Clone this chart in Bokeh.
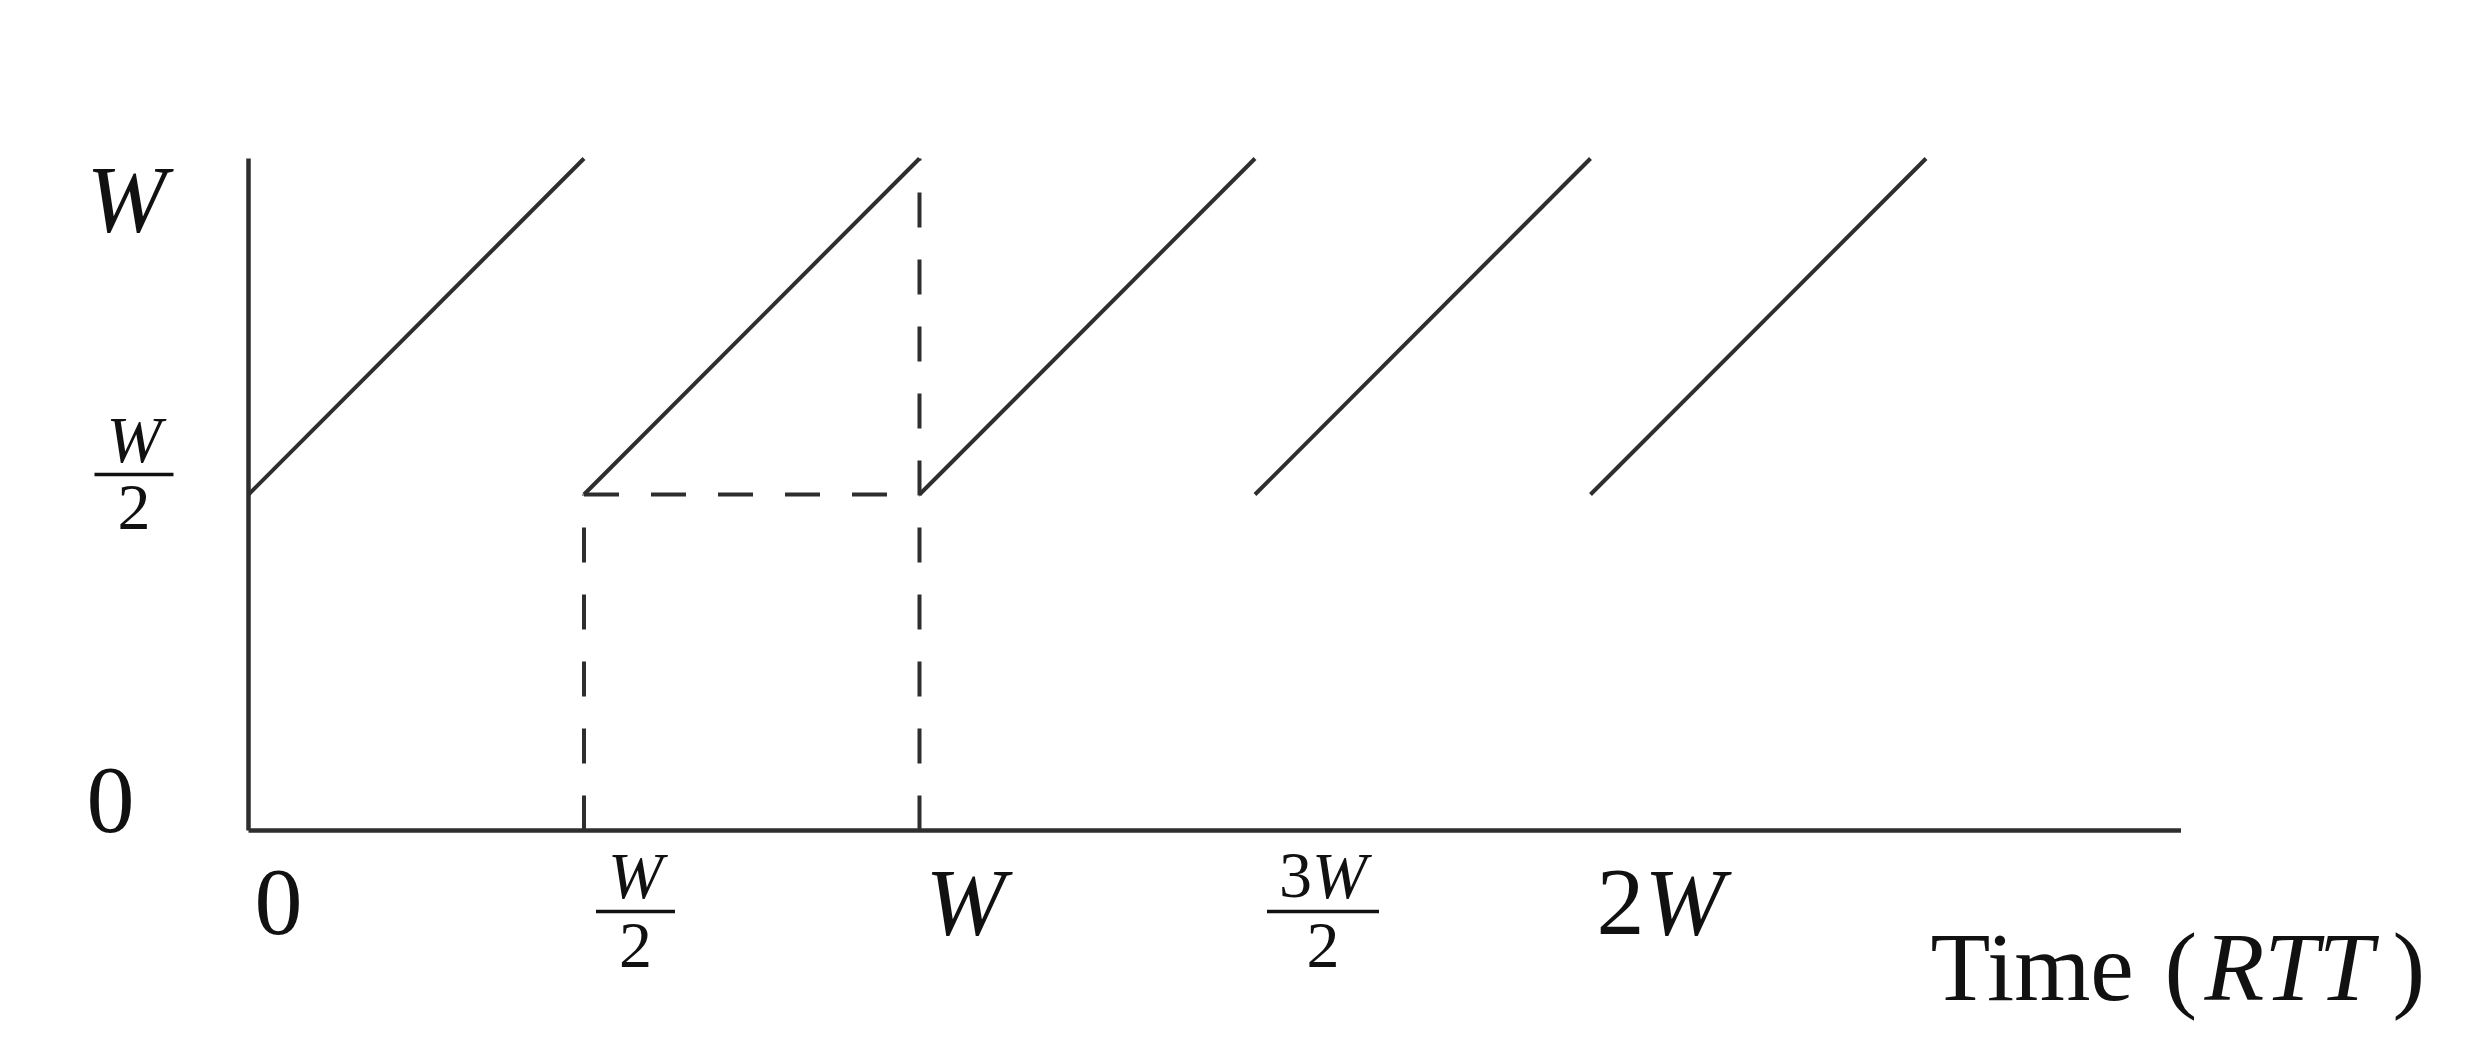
from bokeh.plotting import figure
from bokeh.models import Range1d
from bokeh.embed import file_html
from bokeh.resources import INLINE
from bokeh.core.properties import value

# ---------------- data (time and window in units of W) ----------------
cycle_t_start = [0.0, 0.5, 1.0, 1.5, 2.0]
cycle_t_end = [0.5, 1.0, 1.5, 2.0, 2.5]
cycle_w_start = [0.5, 0.5, 0.5, 0.5, 0.5]
cycle_w_end = [1.0, 1.0, 1.0, 1.0, 1.0]

guide_t0 = [0.5, 1.0, 0.5]
guide_w0 = [0.0, 0.0, 0.5]
guide_t1 = [0.5, 1.0, 1.0]
guide_w1 = [0.5, 1.0, 0.5]

x_ticks = [0.0, 0.5, 1.0, 1.5, 2.0]
x_tick_labels = ["0", "W/2", "W", "3W/2", "2W"]
y_ticks = [0.0, 0.5, 1.0]
y_tick_labels = ["0", "W/2", "W"]
axis_t_max = 2.88
axis_w_max = 1.0
x_title_runs = [("Time", False), ("(", False), ("RTT", True), (")", False)]

# ---------------- layout ----------------
W_PX, H_PX = 2463, 1042
OX, OY = 248, 830          # origin in picture pixels
SX, SY = 671.0, 672.0      # pixels per unit W

x0 = (0 - OX) / SX
x1 = (W_PX - OX) / SX
y0 = (OY - H_PX) / SY
y1 = OY / SY

FONT = "Liberation Serif"
TEXT_COLOR = "#111111"
LINE_COLOR = "#2e2e2e"
BIG = 96
TITLE = 98
SMALL = 66
BASE_FIX = 0.34            # empirical baseline correction (em)
TITLE_LEFTS = [1930, 2164, 2204, 2392]   # picture px of each title run

ADV_UP = {c: 0.5 for c in "0123456789"}
ADV_UP.update({'T': .611, 'i': .278, 'm': .778, 'e': .444, ' ': .25, '(': .333, ')': .333})
ADV_IT = {'W': .833, 'R': .611, 'T': .556}


def px_x(px):
    return (px - OX) / SX


def px_y(py):
    return (OY - py) / SY


def tick_px_x(t):
    return OX + t * SX


def tick_px_y(w):
    return OY - w * SY


def runs_of(term):
    digits = ""
    rest = term
    while rest and rest[0].isdigit():
        digits += rest[0]
        rest = rest[1:]
    out = []
    if digits:
        out.append((digits, False))
    if rest:
        out.append((rest, True))
    return out


def run_width(runs, size):
    w = 0.0
    for txt, it in runs:
        tab = ADV_IT if it else ADV_UP
        w += sum(tab.get(c, 0.5) for c in txt) * size
    return w


p = figure(width=W_PX, height=H_PX, x_range=Range1d(x0, x1), y_range=Range1d(y0, y1),
           output_backend="svg", toolbar_location=None, min_border=0)
p.axis.visible = False
p.grid.visible = False
p.outline_line_color = None
p.background_fill_color = "white"
p.border_fill_color = "white"


def put_text(txt, italic, left_px, base_py, size):
    yb = base_py - BASE_FIX * size
    p.text(x=[px_x(left_px)], y=[px_y(yb)], text=[txt],
           text_font=value(FONT), text_font_style="italic" if italic else "normal",
           text_font_size=f"{size}px", text_align="left", text_baseline="alphabetic",
           text_color=TEXT_COLOR)


def draw_runs(runs, left_px, base_py, size):
    x = left_px
    for txt, it in runs:
        put_text(txt, it, x, base_py, size)
        x += run_width([(txt, it)], size)


def draw_fraction(label, left_px, num_base, bar_py, den_base, size):
    num, den = label.split("/")
    nr, dr = runs_of(num), runs_of(den)
    nw, dw = run_width(nr, size), run_width(dr, size)
    barw = max(nw, dw) + 24
    cx = left_px + barw / 2
    draw_runs(nr, cx - nw / 2, num_base, size)
    draw_runs(dr, cx - dw / 2, den_base, size)
    p.segment(x0=[px_x(left_px)], y0=[px_y(bar_py)], x1=[px_x(left_px + barw)], y1=[px_y(bar_py)],
              line_color=TEXT_COLOR, line_width=3.5)


# axes
p.line(x=[0, 0], y=[0, axis_w_max], line_color=LINE_COLOR, line_width=4.5)
p.line(x=[0, axis_t_max], y=[0, 0], line_color=LINE_COLOR, line_width=4.5)

# dashed guides
p.segment(x0=guide_t0, y0=guide_w0, x1=guide_t1, y1=guide_w1,
          line_color=LINE_COLOR, line_width=4, line_dash="35 32")

# sawtooth window
p.segment(x0=cycle_t_start, y0=cycle_w_start, x1=cycle_t_end, y1=cycle_w_end,
          line_color=LINE_COLOR, line_width=4)

# x tick labels
for t, lab in zip(x_ticks, x_tick_labels):
    tp = tick_px_x(t)
    if "/" in lab:
        draw_fraction(lab, tp + 12, OY + 67, OY + 81, OY + 137, SMALL)
    else:
        draw_runs(runs_of(lab), tp + 6, OY + 105, BIG)

# y tick labels
y_base_off = {"0": 3, "W": 74}
for w, lab in zip(y_ticks, y_tick_labels):
    tp = tick_px_y(w)
    if "/" in lab:
        draw_fraction(lab, 94, tp - 33, tp - 20, tp + 35, SMALL)
    else:
        draw_runs(runs_of(lab), 86, tp + y_base_off[lab], BIG)

# x title
for (txt, it), left in zip(x_title_runs, TITLE_LEFTS):
    put_text(txt, it, left, 1000, TITLE)

open("out.html", "w").write(file_html(p, INLINE))
